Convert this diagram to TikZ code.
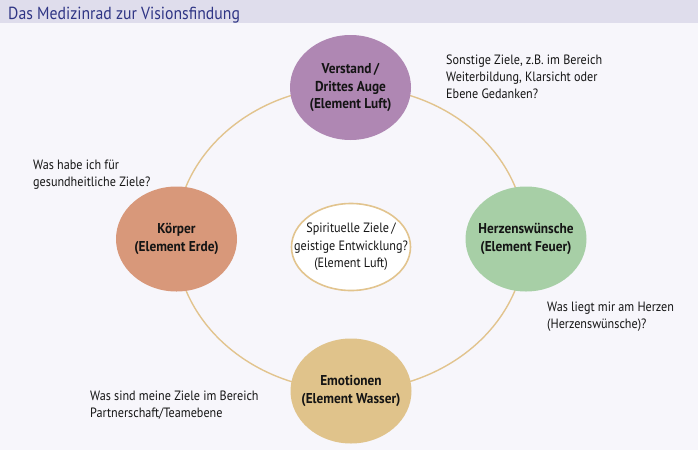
\documentclass[tikz,border=0pt]{standalone}
\usepackage{fontspec}
\setmainfont[FakeStretch=0.9, BoldFeatures={FakeStretch=0.93}]{PT Sans}
\usetikzlibrary{shapes.geometric}
\definecolor{bandcol}{HTML}{DFDDEC}
\definecolor{bgcol}{HTML}{F7F6FB}
\definecolor{titlecol}{HTML}{2F3585}
\definecolor{txtcol}{HTML}{141414}
\definecolor{ringcol}{HTML}{E2C48E}
\definecolor{purplecol}{HTML}{AF87B3}
\definecolor{earthcol}{HTML}{D8987A}
\definecolor{greencol}{HTML}{A7CFA6}
\definecolor{watercol}{HTML}{E0C38B}
\tikzset{
  blob/.style={shape=ellipse, minimum width=121pt, minimum height=105pt,
    inner xsep=-25pt, inner ysep=0pt, draw=none, align=center, text=txtcol,
    font={\fontsize{14.3}{17.8}\selectfont\bfseries}},
  midblob/.style={shape=ellipse, minimum width=119pt, minimum height=87pt,
    inner xsep=-25pt, inner ysep=0pt, draw=ringcol, line width=1.6pt, fill=white,
    align=center, text=txtcol, font={\fontsize{13.5}{17.5}\selectfont}},
  note/.style={anchor=base west, align=left, inner sep=0pt, text=txtcol,
    font={\fontsize{13.5}{17}\selectfont}},
  ringline/.style={draw=ringcol, line width=1.4pt},
}
\begin{document}
\begin{tikzpicture}[x=1pt,y=-1pt]
\useasboundingbox (0,0) rectangle (698,450);
\fill[bgcol] (0,0) rectangle (698,450);
\fill[bandcol] (0,0) rectangle (698,23);
\node[anchor=base west, inner sep=0pt, text=titlecol, font={\fontsize{17.5}{20}\selectfont}] (title) at (8,19) {Das Medizinrad zur Visionsfindung};
\coordinate (wheel) at (350.5,238.5);
\draw[ringline] (wheel) ellipse [x radius=175pt, y radius=152pt];
\node[blob, fill=purplecol] (verstand) at (350.5,87.5) {Verstand\,/\\Drittes Auge\\(Element Luft)};
\node[blob, fill=earthcol] (koerper) at (176.5,239) {Körper\\(Element Erde)};
\node[blob, fill=greencol] (herz) at (526,239) {Herzenswünsche\\(Element Feuer)};
\node[blob, fill=watercol] (emotion) at (351,391) {Emotionen\\(Element Wasser)};
\node[midblob] (geist) at (351,247) {Spirituelle Ziele\,/\\geistige Entwicklung?\\(Element Luft)};
\node[note] (n1) at (446,98) {Sonstige Ziele, z.B. im Bereich\\Weiterbildung, Klarsicht oder\\Ebene Gedanken?};
\node[note] (n2) at (33,186) {Was habe ich für\\gesundheitliche Ziele?};
\node[note] (n3) at (547,328) {Was liegt mir am Herzen\\(Herzenswünsche)?};
\node[note] (n4) at (90,417) {Was sind meine Ziele im Bereich\\Partnerschaft/Teamebene};
\end{tikzpicture}
\end{document}
